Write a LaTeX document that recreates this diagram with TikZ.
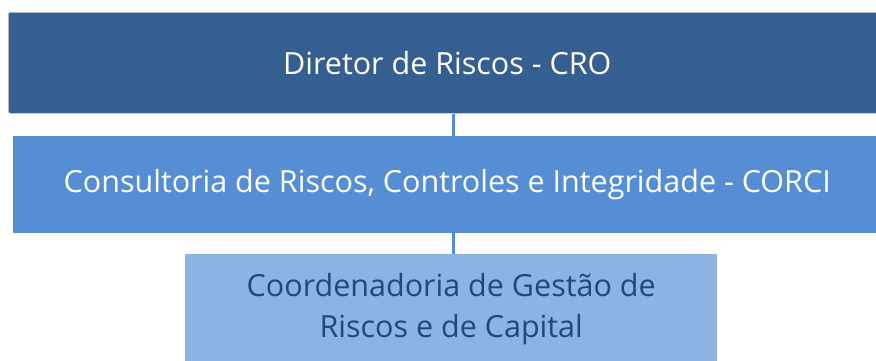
\documentclass[tikz,border=0pt]{standalone}
\usepackage{fontspec}
\setmainfont{Open Sans}
\usetikzlibrary{positioning}

\definecolor{darkblue}{RGB}{54,95,145}
\definecolor{midblue}{RGB}{85,142,213}
\definecolor{lightblue}{RGB}{141,179,226}
\definecolor{textblue}{RGB}{31,73,125}

\tikzset{
  unit/.style={anchor=north west, inner sep=0pt, align=center,
    font=\fontsize{30.5}{41}\selectfont},
  level/.style={unit, draw=none}
}

\begin{document}
\begin{tikzpicture}[x=1pt, y=-1pt]
            \useasboundingbox (0,0) rectangle (876,361);
            \node[unit, fill=darkblue, text=white, rounded corners=2pt,
              draw=black!20, line width=0.6pt,
              minimum width=878pt, minimum height=101pt]
              (cro) at (8,12) {Diretor de Riscos - CRO};
            \node[level, fill=midblue, text=white,
              minimum width=868pt, minimum height=97pt]
              (corci) at (13,136) {Consultoria de Riscos, Controles e Integridade - CORCI};
            \node[level, fill=lightblue, text=textblue,
              minimum width=532pt, minimum height=110pt]
              (coord) at (185,254) {Coordenadoria de Gestão de\\Riscos e de Capital};
            \coordinate (spine) at (453.5,0);
            \draw[midblue, line width=3pt] (cro.south -| spine) -- (corci.north -| spine);
            \draw[midblue, line width=3pt] (corci.south -| spine) -- (coord.north -| spine);
        \end{tikzpicture}
\end{document}
